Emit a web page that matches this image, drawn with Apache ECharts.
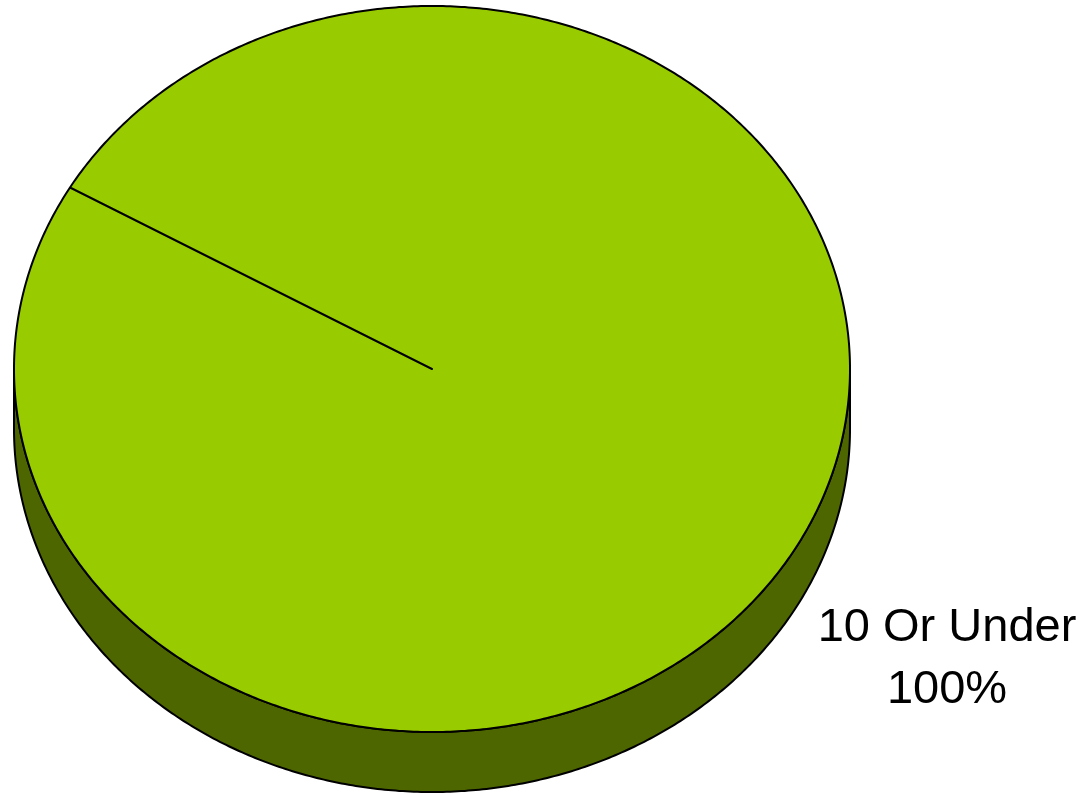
<!DOCTYPE html>
<html><head><meta charset="utf-8">
<script src="https://cdn.jsdelivr.net/npm/echarts@6/dist/echarts.min.js"></script>
<style>html,body{margin:0;padding:0;background:#fff}#c{width:1089px;height:794px}</style>
</head><body><div id="c"></div>
<script>
// ---- data ----
const categories = ['10 Or Under'];
const values = [100];
// ---- style / layout ----
const colors = ['#99CC00'];
const sideColors = ['#4D6600'];
const CX = 432, CY = 369, RX = 418, RY = 363, DEPTH = 60, START = 150;
const LABEL_X = 947, LABEL_Y = 659;

const total = values.reduce((a, b) => a + b, 0);
const starts = []; let acc = 0;
values.forEach(v => { starts.push(START - acc / total * 360); acc += v; });

function pt(deg, dy) {
  const r = deg * Math.PI / 180;
  return [CX + RX * Math.cos(r), CY - RY * Math.sin(r) + (dy || 0)];
}
function arc(a0, a1, dy) {
  const n = Math.max(2, Math.ceil(Math.abs(a0 - a1) * 2));
  const pts = [];
  for (let i = 0; i <= n; i++) pts.push(pt(a0 + (a1 - a0) * i / n, dy));
  return pts;
}
function renderItem(params, api) {
  const i = params.dataIndex;
  const v = api.value(0);
  const a0 = starts[i], a1 = a0 - v / total * 360;
  const children = [];
  for (let k = -2; k <= 1; k++) {
    const lo = -180 + 360 * k, hi = 360 * k;
    const s = Math.min(a0, hi), e = Math.max(a1, lo);
    if (s > e) {
      const top = arc(s, e, 0);
      const bot = arc(e, s, DEPTH);
      children.push({ type: 'polygon', z2: 0, shape: { points: top.concat(bot) },
        style: { fill: sideColors[i % sideColors.length], stroke: '#000', lineWidth: 2, lineJoin: 'round' } });
    }
  }
  const pts = [[CX, CY]].concat(arc(a0, a1, 0));
  children.push({ type: 'polygon', z2: 10, shape: { points: pts },
    style: { fill: colors[i % colors.length], stroke: '#000', lineWidth: 2, lineJoin: 'round' } });
  children.push({ type: 'text', z2: 20, style: {
    text: categories[i] + '\n' + Math.round(v / total * 100) + '%',
    x: LABEL_X, y: LABEL_Y, align: 'center', verticalAlign: 'middle',
    fontSize: 47, fontFamily: '"Liberation Sans", Arial, sans-serif', lineHeight: 62, fill: '#000' } });
  return { type: 'group', children };
}

const chart = echarts.init(document.getElementById('c'), null, { renderer: 'canvas' });
chart.setOption({
  animation: false,
  backgroundColor: '#fff',
  series: [{
    type: 'custom',
    coordinateSystem: 'none',
    renderItem: renderItem,
    data: values.map((v, i) => ({ name: categories[i], value: [v] }))
  }]
});
</script>
</body></html>
